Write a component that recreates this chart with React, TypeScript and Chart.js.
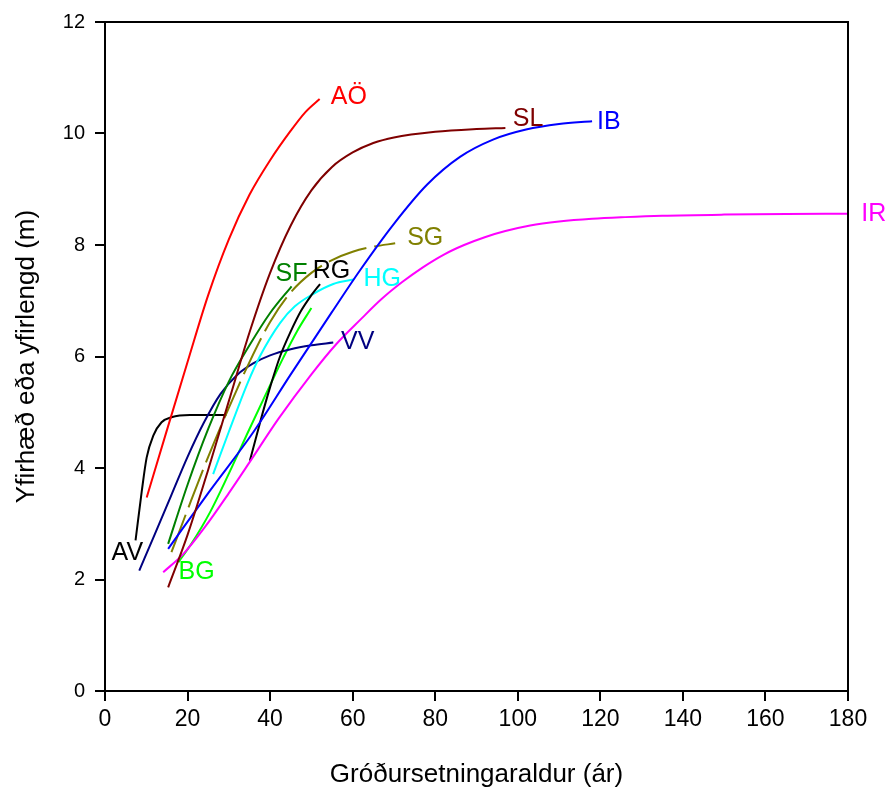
import React, { useEffect, useRef } from "react";
import { Chart, registerables } from "chart.js";

Chart.register(...registerables);

// Height growth curves per site: [planting age (years), height (m)]
const AO: [number, number][] = [[10.1, 3.47], [15, 4.68], [20, 5.9], [25, 7.1], [30, 8.1], [35, 8.9], [40, 9.52], [45, 10.05], [48.5, 10.38], [52, 10.62]];
const SL: [number, number][] = [[15.3, 1.86], [20, 2.8], [25, 3.97], [30, 5.2], [35, 6.43], [40, 7.5], [45, 8.35], [50, 8.98], [55, 9.4], [60, 9.66], [65, 9.83], [70, 9.93], [80, 10.03], [90, 10.08], [97, 10.1]];
const IB: [number, number][] = [[15.3, 2.55], [25, 3.55], [36, 4.65], [45, 5.68], [55, 6.8], [62, 7.57], [70, 8.38], [78, 9.08], [86, 9.58], [94, 9.89], [102, 10.07], [110, 10.17], [118, 10.22]];
const IR: [number, number][] = [[14.1, 2.13], [19, 2.46], [24, 2.92], [30, 3.55], [35, 4.1], [42, 4.88], [50, 5.68], [56, 6.22], [62, 6.67], [67, 7.03], [72, 7.335], [77, 7.6], [82, 7.825], [87, 8.0], [92, 8.14], [97, 8.25], [103, 8.35], [110, 8.42], [118, 8.47], [126, 8.5], [135, 8.525], [150, 8.545], [165, 8.555], [180, 8.56]];
const SG: [number, number][] = [[16.1, 2.49], [20, 3.25], [25, 4.2], [30, 5.08], [35, 5.9], [40, 6.62], [45, 7.15], [50, 7.5], [55, 7.73], [60, 7.88], [65, 7.97], [70.3, 8.03]];
const SF: [number, number][] = [[15.3, 2.64], [20, 3.7], [25, 4.7], [30, 5.55], [35, 6.2], [40, 6.78], [45.2, 7.26]];
const RG: [number, number][] = [[35.1, 4.13], [37.5, 4.8], [40, 5.45], [42.4, 6.0], [45, 6.45], [47.5, 6.82], [50, 7.1], [52.1, 7.3]];
const HG: [number, number][] = [[26.2, 3.89], [30, 4.65], [34.7, 5.55], [37.5, 6.0], [42.4, 6.6], [46, 6.9], [50.4, 7.12], [55.3, 7.3], [60.2, 7.38]];
const VV: [number, number][] = [[8.3, 2.16], [12, 2.8], [16, 3.5], [20, 4.2], [24, 4.82], [28, 5.33], [32, 5.67], [36, 5.88], [40, 6.02], [45, 6.13], [50, 6.2], [55.3, 6.25]];
const AV: [number, number][] = [[7.4, 2.7], [8.9, 3.58], [10.1, 4.19], [11.7, 4.58], [13.7, 4.82], [16.1, 4.91], [20.6, 4.95], [29.4, 4.95]];
const BG: [number, number][] = [[17.8, 2.31], [21, 2.65], [25.4, 3.2], [30, 3.9], [35, 4.7], [40.4, 5.55], [43.2, 5.98], [46.5, 6.45], [50, 6.87]];

const X_TICKS = [0, 20, 40, 60, 80, 100, 120, 140, 160, 180];
const Y_TICKS = [0, 2, 4, 6, 8, 10, 12];

const X_TITLE = "Gróðursetningaraldur (ár)";
const Y_TITLE = "Yfirhæð eða yfirlengd (m)";

type Series = { name: string; pts: [number, number][]; color: string; dash?: number[]; label: [number, number] };

const SERIES: Series[] = [
  { name: "AÖ", pts: AO, color: "#FF0000", label: [54.7, 10.65] },
  { name: "SL", pts: SL, color: "#7F0000", label: [98.8, 10.26] },
  { name: "IB", pts: IB, color: "#0000FF", label: [119.2, 10.2] },
  { name: "IR", pts: IR, color: "#FF00FF", label: [183.2, 8.56] },
  { name: "SG", pts: SG, color: "#808000", dash: [40, 8], label: [73.2, 8.12] },
  { name: "SF", pts: SF, color: "#008000", label: [41.3, 7.48] },
  { name: "RG", pts: RG, color: "#000000", label: [50.3, 7.54] },
  { name: "HG", pts: HG, color: "#00FFFF", label: [62.6, 7.38] },
  { name: "VV", pts: VV, color: "#000080", label: [57.2, 6.25] },
  { name: "AV", pts: AV, color: "#000000", label: [1.6, 2.47] },
  { name: "BG", pts: BG, color: "#00FF00", label: [17.8, 2.14] },
];

const FONT = "'Liberation Sans', Arial, Helvetica, sans-serif";

const decorPlugin = {
  id: "decor",
  afterDatasetsDraw(chart: any) {
    const { ctx, chartArea, scales } = chart;
    const xs = scales.x;
    const ys = scales.y;
    ctx.save();
    // frame on the top and right sides
    ctx.strokeStyle = "#000";
    ctx.lineWidth = 2;
    ctx.beginPath();
    ctx.moveTo(chartArea.left, chartArea.top);
    ctx.lineTo(chartArea.right, chartArea.top);
    ctx.lineTo(chartArea.right, chartArea.bottom);
    ctx.stroke();
    // series names
    ctx.font = `25px ${FONT}`;
    ctx.textAlign = "left";
    ctx.textBaseline = "middle";
    for (const s of SERIES) {
      ctx.fillStyle = s.color;
      ctx.fillText(s.name, xs.getPixelForValue(s.label[0]), ys.getPixelForValue(s.label[1]));
    }
    // axis titles
    ctx.fillStyle = "#000";
    ctx.font = `26px ${FONT}`;
    ctx.textAlign = "center";
    ctx.textBaseline = "middle";
    ctx.fillText(X_TITLE, (chartArea.left + chartArea.right) / 2, 775);
    ctx.translate(27, (chartArea.top + chartArea.bottom) / 2);
    ctx.rotate(-Math.PI / 2);
    ctx.fillText(Y_TITLE, 0, 0);
    ctx.restore();
  },
};

export default function App() {
  const ref = useRef<HTMLCanvasElement>(null);

  useEffect(() => {
    if (!ref.current) return;
    const chart = new Chart(ref.current, {
      type: "line",
      data: {
        datasets: SERIES.map((s) => ({
          label: s.name,
          data: s.pts.map(([x, y]) => ({ x, y })),
          borderColor: s.color,
          backgroundColor: s.color,
          borderWidth: 2,
          borderDash: s.dash ?? [],
          pointRadius: 0,
          fill: false,
          cubicInterpolationMode: "monotone" as const,
        })),
      },
      options: {
        animation: false,
        responsive: false,
        layout: { padding: { left: 0, right: 42, top: 20, bottom: 0 } },
        plugins: { legend: { display: false }, tooltip: { enabled: false }, title: { display: false } },
        scales: {
          x: {
            type: "linear",
            min: 0,
            max: 180,
            afterFit: (scale: any) => {
              scale.height = 98;
            },
            afterBuildTicks: (scale: any) => {
              scale.ticks = X_TICKS.map((v) => ({ value: v }));
            },
            border: { display: true, color: "#000", width: 2 },
            grid: { drawOnChartArea: false, drawTicks: true, tickLength: 10, color: "#000", lineWidth: 2 },
            ticks: { color: "#000", font: { family: FONT, size: 23 }, padding: 5, maxRotation: 0 },
          },
          y: {
            type: "linear",
            min: 0,
            max: 12,
            afterFit: (scale: any) => {
              scale.width = 105;
            },
            afterBuildTicks: (scale: any) => {
              scale.ticks = Y_TICKS.map((v) => ({ value: v }));
            },
            border: { display: true, color: "#000", width: 2 },
            grid: { drawOnChartArea: false, drawTicks: true, tickLength: 10, color: "#000", lineWidth: 2 },
            ticks: { color: "#000", font: { family: FONT, size: 20 }, padding: 10 },
          },
        },
      },
      plugins: [decorPlugin],
    });
    return () => chart.destroy();
  }, []);

  return (
    <div style={{ position: "fixed", left: 0, top: 0, width: 890, height: 789, background: "#fff" }}>
      <canvas ref={ref} width={890} height={789} style={{ display: "block" }} />
    </div>
  );
}
